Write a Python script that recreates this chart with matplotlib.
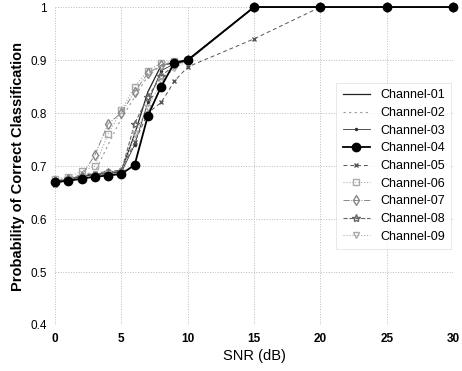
import matplotlib
matplotlib.use("Agg")
from matplotlib import pyplot as plt

plt.rcParams["font.family"] = ["Liberation Sans", "DejaVu Sans"]

snr = [0, 1, 2, 3, 4, 5, 6, 7, 8, 9, 10, 15, 20, 25, 30]
channels = ["Channel-01", "Channel-02", "Channel-03", "Channel-04", "Channel-05",
            "Channel-06", "Channel-07", "Channel-08", "Channel-09"]
ch01 = [0.670, 0.675, 0.680, 0.685, 0.685, 0.690, 0.760, 0.840, 0.890, 0.895, 0.900, 1, 1, 1, 1]
ch02 = [0.672, 0.678, 0.684, 0.688, 0.740, 0.790, 0.830, 0.870, 0.890, 0.895, 0.900, 1, 1, 1, 1]
ch03 = [0.668, 0.673, 0.680, 0.684, 0.686, 0.688, 0.740, 0.820, 0.880, 0.893, 0.898, 1, 1, 1, 1]
ch04 = [0.670, 0.672, 0.676, 0.680, 0.682, 0.685, 0.702, 0.795, 0.850, 0.895, 0.900, 1, 1, 1, 1]
ch05 = [0.665, 0.675, 0.682, 0.686, 0.690, 0.692, 0.745, 0.800, 0.820, 0.860, 0.887, 0.940, 1, 1, 1]
ch06 = [0.675, 0.680, 0.690, 0.700, 0.760, 0.805, 0.850, 0.880, 0.895, 0.898, 0.900, 1, 1, 1, 1]
ch07 = [0.672, 0.676, 0.682, 0.720, 0.780, 0.800, 0.840, 0.875, 0.890, 0.895, 0.900, 1, 1, 1, 1]
ch08 = [0.670, 0.675, 0.680, 0.683, 0.688, 0.690, 0.780, 0.830, 0.870, 0.890, 0.900, 1, 1, 1, 1]
ch09 = [0.668, 0.673, 0.678, 0.682, 0.685, 0.687, 0.760, 0.810, 0.860, 0.885, 0.898, 1, 1, 1, 1]
series = [ch01, ch02, ch03, ch04, ch05, ch06, ch07, ch08, ch09]

styles = [
    dict(color="#222222", ls="-", lw=0.9, marker=None),
    dict(color="#999999", ls=(0, (2, 3)), lw=0.8, marker=None),
    dict(color="#333333", ls="-", lw=0.6, marker=".", ms=3),
    dict(color="black", ls="-", lw=1.3, marker="o", ms=6, zorder=5),
    dict(color="#555555", ls=(0, (4, 3)), lw=0.7, marker="x", ms=3),
    dict(color="#aaaaaa", ls=":", lw=0.8, marker="s", ms=5, mfc="none"),
    dict(color="#888888", ls="-.", lw=0.7, marker="d", ms=5, mfc="none"),
    dict(color="#666666", ls="--", lw=0.8, marker="*", ms=6, mfc="none"),
    dict(color="#aaaaaa", ls=":", lw=0.8, marker="v", ms=5, mfc="none"),
]

fig = plt.figure(figsize=(4.62, 3.71), dpi=100)
ax = fig.add_axes([0.119, 0.124, 0.862, 0.857])

for name, ys, st in zip(channels, series, styles):
    st = dict(st)
    color = st.pop("color")
    ax.plot(snr, ys, label=name, color=color, mec=color, clip_on=False, **st)

ax.set_xlim(0, 30)
ax.set_ylim(0.4, 1.0)
ax.set_xticks([0, 5, 10, 15, 20, 25, 30])
ax.set_yticks([0.4, 0.5, 0.6, 0.7, 0.8, 0.9, 1.0])
ax.set_yticklabels(["0.4", "0.5", "0.6", "0.7", "0.8", "0.9", "1"])
ax.grid(True, color="#bbbbbb", ls=":", lw=0.7)
for s in ax.spines.values():
    s.set_visible(False)
ax.tick_params(length=0, labelsize=8.5, pad=6)
for lbl in ax.get_xticklabels():
    lbl.set_fontweight("bold")

ax.set_xlabel("SNR (dB)", fontsize=10.5, labelpad=3)
ax.set_ylabel("Probability of Correct Classification", fontsize=10.5,
              fontweight="bold", labelpad=4)

leg = ax.legend(loc="center left", bbox_to_anchor=(330 / 462, 1 - 166 / 371),
                bbox_transform=fig.transFigure, fontsize=9, labelspacing=0.45,
                handlelength=2.2, frameon=True, fancybox=False, borderpad=0.5)
leg.get_frame().set_edgecolor("#dddddd")
leg.get_frame().set_linewidth(0.6)

plt.savefig("out.png", dpi=100)
